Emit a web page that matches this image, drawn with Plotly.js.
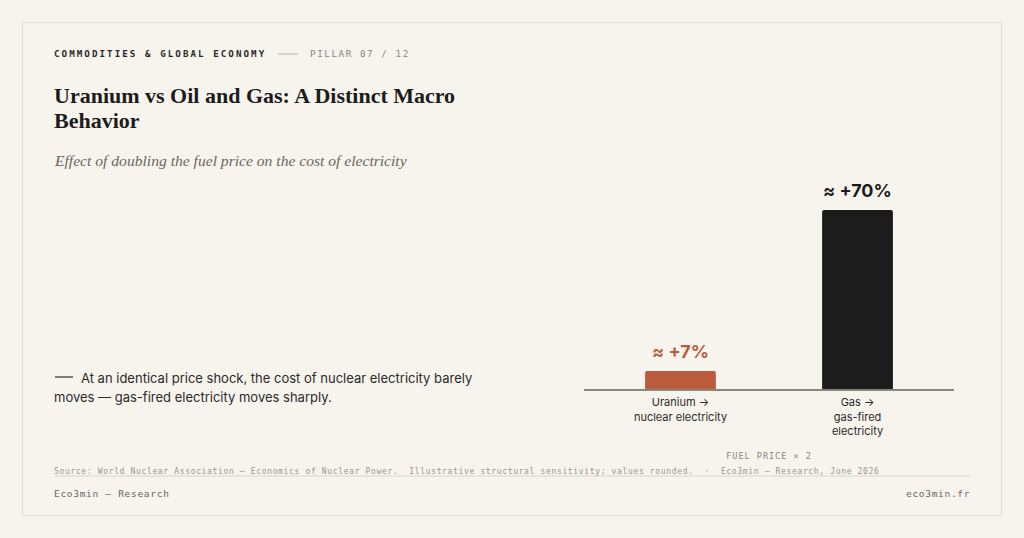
<!DOCTYPE html>
<html>
<head>
<meta charset="utf-8">
<script src="https://cdn.plot.ly/plotly-3.0.1.min.js"></script>
<style>
html,body{margin:0;padding:0;background:#f7f4ee;}
#chart{width:1024px;height:538px;}
</style>
</head>
<body>
<div id="chart"></div>
<script>
// ---- data ----
const categories = ["Uranium →<br>nuclear electricity", "Gas →<br>gas-fired<br>electricity"];
const costIncrease = [7, 70];
const valueLabels = ["≈ +7%", "≈ +70%"];
const axisTitle = "FUEL PRICE × 2";

// ---- helpers: pixel -> paper ----
const W = 1024, H = 538;
const px = x => x / W;
const py = y => 1 - y / H;

const barColors = ["#b95c3c", "#1c1c1c"];
const labelColors = ["#b95c3c", "#1c1c1c"];

const mono = "DejaVu Sans Mono, monospace";
const serif = "Liberation Serif, serif";
const sans = "Inter, sans-serif";

const trace = {
  type: "bar",
  x: categories,
  y: costIncrease,
  width: 0.4,
  marker: {color: barColors, cornerradius: 2},
  hoverinfo: "skip"
};

const yBottom = 389, yTop = 389 - 80 * 179 / 70;

const annotations = [
  {text: "COMMODITIES & GLOBAL ECONOMY", x: px(52), y: py(54), font: {family: mono, size: 9.2, color: "#2a2a2a", weight: 700}},
  {text: "PILLAR 07 / 12", x: px(308), y: py(54), font: {family: mono, size: 9.2, color: "#8a857e"}},
  {text: "<b>Uranium vs Oil and Gas: A Distinct Macro</b>", x: px(52), y: py(95.5), font: {family: serif, size: 22, color: "#1c1c1c"}},
  {text: "<b>Behavior</b>", x: px(52), y: py(120.5), font: {family: serif, size: 22, color: "#1c1c1c"}},
  {text: "<i>Effect of doubling the fuel price on the cost of electricity</i>", x: px(52), y: py(160.5), font: {family: serif, size: 15.6, color: "#6a655e"}},
  {text: "At an identical price shock, the cost of nuclear electricity barely", x: px(79), y: py(378), font: {family: sans, size: 13, color: "#2a2a2a"}},
  {text: "moves — gas-fired electricity moves sharply.", x: px(52), y: py(397), font: {family: sans, size: 13, color: "#2a2a2a"}},
  {text: "Source: World Nuclear Association — Economics of Nuclear Power.\u00a0\u00a0Illustrative structural sensitivity; values rounded.\u00a0\u00a0·\u00a0\u00a0Eco3min — Research, June 2026", x: px(52), y: py(471), font: {family: mono, size: 8, color: "#9a958e"}},
  {text: "Eco3min — Research", x: px(52), y: py(493), font: {family: mono, size: 9.5, color: "#6a655e"}},
  {text: "eco3min.fr", x: px(972), y: py(493), xanchor: "right", align: "right", font: {family: mono, size: 9.5, color: "#6a655e"}}
].map(a => Object.assign({xref: "paper", yref: "paper", xanchor: "left", align: "left", yanchor: "middle", showarrow: false}, a));

// value labels above the bars, positioned through the data scales
categories.forEach((c, i) => {
  annotations.push({
    xref: "x", yref: "y", x: c, y: costIncrease[i], yanchor: "bottom", yshift: 7,
    text: "<b>" + valueLabels[i] + "</b>", showarrow: false,
    font: {family: sans, size: 18, color: labelColors[i]}
  });
});

const shapes = [
  // card border
  {type: "rect", xref: "paper", yref: "paper", x0: px(22.5), x1: px(1001.5), y0: py(22.5), y1: py(515.5), line: {color: "#e2ddd0", width: 1}, layer: "below"},
  // header dash
  {type: "line", xref: "paper", yref: "paper", x0: px(278), x1: px(298), y0: py(54), y1: py(54), line: {color: "#b5afa5", width: 1}},
  // note dash
  {type: "line", xref: "paper", yref: "paper", x0: px(55), x1: px(73), y0: py(377), y1: py(377), line: {color: "#2a2a2a", width: 1.2}},
  // footer rule
  {type: "line", xref: "paper", yref: "paper", x0: px(55), x1: px(970), y0: py(476), y1: py(476), line: {color: "#e4dfd3", width: 1.5}}
];

const layout = {
  width: W, height: H,
  margin: {l: 0, r: 0, t: 0, b: 0},
  paper_bgcolor: "#f7f4ee",
  plot_bgcolor: "rgba(0,0,0,0)",
  showlegend: false,
  xaxis: {
    domain: [px(584), px(954)],
    range: [-0.545, 1.545],
    showline: true, linecolor: "#8a857e", linewidth: 2,
    showgrid: false, zeroline: false, ticks: "",
    ticklabelstandoff: 2,
    tickfont: {family: sans, size: 11, color: "#2a2a2a"},
    title: {text: axisTitle, font: {family: mono, size: 8.5, color: "#8a857e"}, standoff: 16},
    fixedrange: true
  },
  yaxis: {
    domain: [py(yBottom), py(yTop)],
    range: [0, 80],
    visible: false, fixedrange: true
  },
  annotations: annotations,
  shapes: shapes
};

Plotly.newPlot("chart", [trace], layout, {staticPlot: true, displayModeBar: false}).then(() => {
  const spacing = {
    "COMMODITIES & GLOBAL ECONOMY": "2.05px",
    "PILLAR 07 / 12": "1.6px",
    "Eco3min — Research": "0.7px",
    "eco3min.fr": "0.7px"
  };
  document.querySelectorAll(".annotation-text").forEach(t => {
    const s = t.textContent;
    if (spacing[s]) t.style.letterSpacing = spacing[s];
    if (s.startsWith("Source:")) t.style.letterSpacing = "0.65px";
  });
  const xt = document.querySelector(".xtitle");
  if (xt) xt.style.letterSpacing = "1px";
});
</script>
</body>
</html>
